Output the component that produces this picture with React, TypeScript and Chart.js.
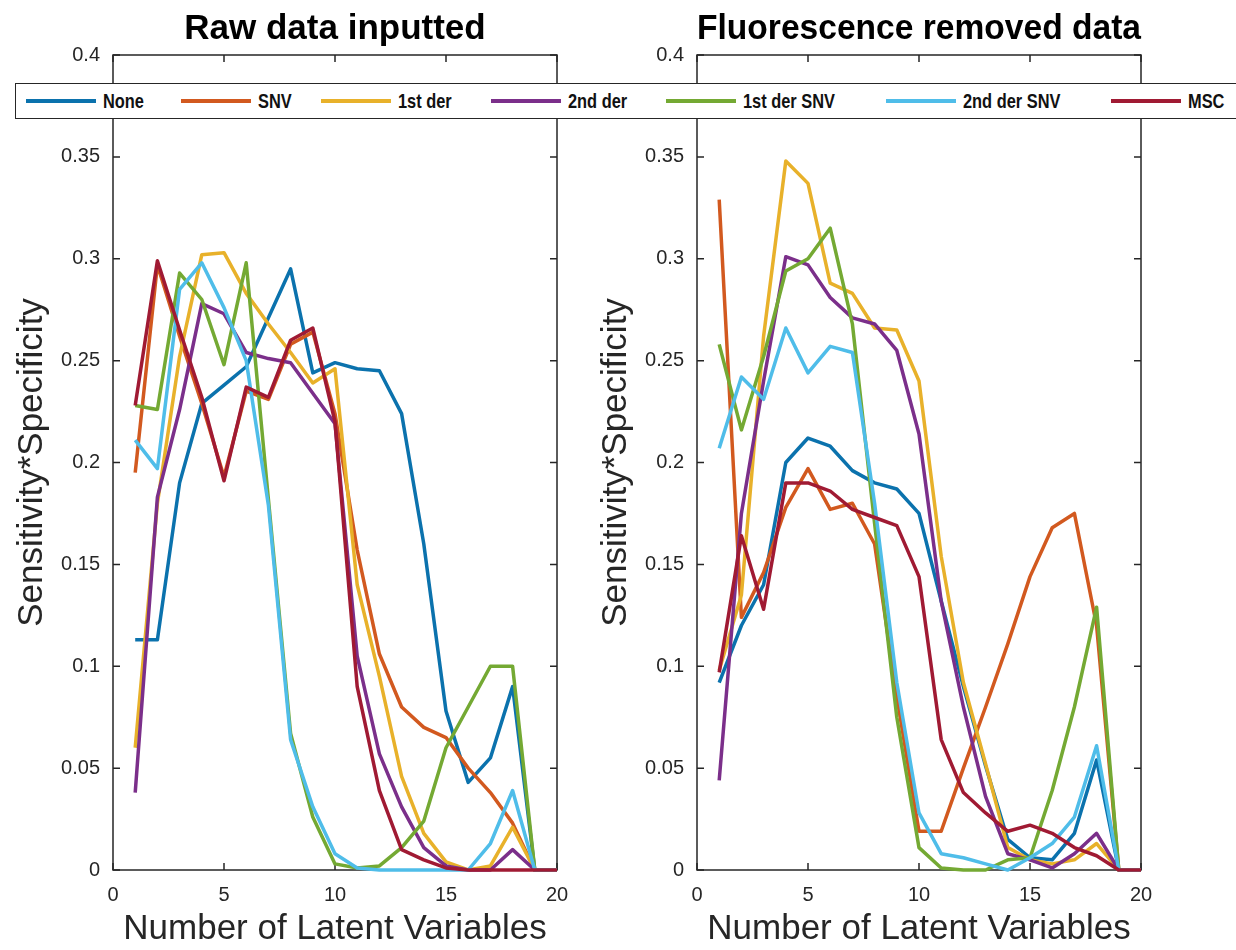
import React, { useEffect, useRef } from "react";
import { Chart, registerables } from "chart.js";

Chart.register(...registerables);

// ---------------- data ----------------
const LATENT_VARIABLES = [1, 2, 3, 4, 5, 6, 7, 8, 9, 10, 11, 12, 13, 14, 15, 16, 17, 18, 19, 20];
const X_TICKS = [0, 5, 10, 15, 20];
const Y_TICKS = [0, 0.05, 0.1, 0.15, 0.2, 0.25, 0.3, 0.35, 0.4];
const SERIES_NAMES = ["None", "SNV", "1st der", "2nd der", "1st der SNV", "2nd der SNV", "MSC"];
const PANEL_TITLES = ["Raw data inputted", "Fluorescence removed data"];
const X_LABEL = "Number of Latent Variables";
const Y_LABEL = "Sensitivity*Specificity";

// Raw data inputted
const RAW_NONE = [0.113, 0.113, 0.19, 0.229, 0.238, 0.247, 0.271, 0.295, 0.244, 0.249, 0.246, 0.245, 0.224, 0.16, 0.078, 0.043, 0.055, 0.09, 0, 0];
const RAW_SNV = [0.195, 0.297, 0.262, 0.229, 0.193, 0.235, 0.231, 0.258, 0.264, 0.224, 0.157, 0.106, 0.08, 0.07, 0.065, 0.05, 0.038, 0.023, 0, 0];
const RAW_1ST_DER = [0.06, 0.18, 0.252, 0.302, 0.303, 0.283, 0.268, 0.254, 0.239, 0.246, 0.14, 0.095, 0.046, 0.018, 0.004, 0, 0.002, 0.021, 0, 0];
const RAW_2ND_DER = [0.038, 0.183, 0.226, 0.278, 0.273, 0.254, 0.251, 0.249, 0.234, 0.219, 0.105, 0.057, 0.031, 0.011, 0.002, 0, 0, 0.01, 0, 0];
const RAW_1ST_DER_SNV = [0.228, 0.226, 0.293, 0.28, 0.248, 0.298, 0.182, 0.067, 0.026, 0.003, 0.001, 0.002, 0.011, 0.024, 0.06, 0.08, 0.1, 0.1, 0, 0];
const RAW_2ND_DER_SNV = [0.211, 0.197, 0.285, 0.298, 0.276, 0.25, 0.179, 0.064, 0.031, 0.008, 0.001, 0, 0, 0, 0, 0, 0.013, 0.039, 0, 0];
const RAW_MSC = [0.228, 0.299, 0.265, 0.232, 0.191, 0.237, 0.232, 0.26, 0.266, 0.22, 0.09, 0.039, 0.01, 0.005, 0.001, 0, 0, 0, 0, 0];

// Fluorescence removed data
const FR_NONE = [0.092, 0.12, 0.14, 0.2, 0.212, 0.208, 0.196, 0.19, 0.187, 0.175, 0.132, 0.09, 0.051, 0.015, 0.006, 0.005, 0.018, 0.054, 0, 0];
const FR_SNV = [0.329, 0.124, 0.146, 0.178, 0.197, 0.177, 0.18, 0.16, 0.085, 0.019, 0.019, 0.05, 0.08, 0.111, 0.144, 0.168, 0.175, 0.12, 0, 0];
const FR_1ST_DER = [0.098, 0.135, 0.262, 0.348, 0.337, 0.288, 0.283, 0.266, 0.265, 0.24, 0.154, 0.092, 0.052, 0.011, 0.005, 0.003, 0.005, 0.013, 0, 0];
const FR_2ND_DER = [0.044, 0.175, 0.24, 0.301, 0.297, 0.281, 0.271, 0.268, 0.255, 0.214, 0.132, 0.08, 0.036, 0.008, 0.005, 0.001, 0.008, 0.018, 0, 0];
const FR_1ST_DER_SNV = [0.258, 0.216, 0.252, 0.294, 0.3, 0.315, 0.268, 0.17, 0.075, 0.011, 0.001, 0, 0, 0.005, 0.006, 0.039, 0.08, 0.129, 0, 0];
const FR_2ND_DER_SNV = [0.207, 0.242, 0.231, 0.266, 0.244, 0.257, 0.254, 0.18, 0.092, 0.028, 0.008, 0.006, 0.003, 0, 0.006, 0.013, 0.026, 0.061, 0, 0];
const FR_MSC = [0.097, 0.164, 0.128, 0.19, 0.19, 0.186, 0.177, 0.173, 0.169, 0.144, 0.064, 0.038, 0.028, 0.019, 0.022, 0.018, 0.011, 0.007, 0, 0];

const RAW_SERIES = [RAW_NONE, RAW_SNV, RAW_1ST_DER, RAW_2ND_DER, RAW_1ST_DER_SNV, RAW_2ND_DER_SNV, RAW_MSC];
const FR_SERIES = [FR_NONE, FR_SNV, FR_1ST_DER, FR_2ND_DER, FR_1ST_DER_SNV, FR_2ND_DER_SNV, FR_MSC];

// ---------------- styles / layout ----------------
const COLORS = ["#0b72ad", "#d2591f", "#e8b12a", "#7b2f8a", "#74a933", "#4fbde9", "#a01a33"];
const AXIS_COLOR = "#262626";
const FONT = "'Liberation Sans', Arial, Helvetica, sans-serif";
const CANVAS_W = 600;
const CANVAS_H = 950;
const PANEL_LEFTS = [0, 584];
const LEGEND_SLOTS = [25, 180, 320, 490, 665, 885, 1110];

const boxPlugin = {
  id: "matlabBox",
  beforeDatasetsDraw(chart: any) {
    const { ctx, chartArea: a, scales } = chart;
    const xs = scales.x;
    const ys = scales.y;
    const tl = 7;
    ctx.save();
    ctx.strokeStyle = AXIS_COLOR;
    ctx.lineWidth = 1.5;
    ctx.strokeRect(a.left, a.top, a.right - a.left, a.bottom - a.top);
    ctx.beginPath();
    xs.ticks.forEach((t: any) => {
      const px = xs.getPixelForValue(t.value);
      ctx.moveTo(px, a.bottom);
      ctx.lineTo(px, a.bottom - tl);
      ctx.moveTo(px, a.top);
      ctx.lineTo(px, a.top + tl);
    });
    ys.ticks.forEach((t: any) => {
      const py = ys.getPixelForValue(t.value);
      ctx.moveTo(a.left, py);
      ctx.lineTo(a.left + tl, py);
      ctx.moveTo(a.right, py);
      ctx.lineTo(a.right - tl, py);
    });
    ctx.stroke();
    ctx.restore();
  },
};

function Panel({ title, series }: { title: string; series: number[][] }) {
  const ref = useRef<HTMLCanvasElement | null>(null);
  useEffect(() => {
    if (!ref.current) return;
    const n = SERIES_NAMES.length;
    const chart = new Chart(ref.current, {
      type: "line",
      data: {
        datasets: SERIES_NAMES.map((name, i) => ({
          label: name,
          data: LATENT_VARIABLES.map((x, j) => ({ x, y: series[i][j] })),
          borderColor: COLORS[i],
          backgroundColor: COLORS[i],
          borderWidth: 3.5,
          pointRadius: 0,
          tension: 0,
          fill: false,
          clip: false,
          borderJoinStyle: "round",
          order: n - 1 - i,
        })),
      },
      options: {
        responsive: false,
        animation: false,
        layout: { padding: { left: 0, right: 43, top: 0, bottom: 0 } },
        plugins: {
          legend: { display: false },
          tooltip: { enabled: false },
          title: {
            display: true,
            text: title,
            fullSize: false,
            color: "#000",
            font: { family: FONT, size: 35, weight: "bold" },
            padding: { top: 8, bottom: 5 },
          },
        },
        scales: {
          x: {
            type: "linear",
            min: 0,
            max: 20,
            afterBuildTicks: (s: any) => {
              s.ticks = X_TICKS.map((v) => ({ value: v }));
            },
            afterFit: (s: any) => {
              s.height = 80;
            },
            ticks: { color: AXIS_COLOR, font: { family: FONT, size: 20 }, padding: 13, maxRotation: 0 },
            grid: { display: false, drawTicks: false },
            border: { display: false },
            title: {
              display: true,
              text: X_LABEL,
              color: AXIS_COLOR,
              font: { family: FONT, size: 35 },
              padding: { top: 0, bottom: 0 },
            },
          },
          y: {
            type: "linear",
            min: 0,
            max: 0.4,
            afterBuildTicks: (s: any) => {
              s.ticks = Y_TICKS.map((v) => ({ value: v }));
            },
            afterFit: (s: any) => {
              s.width = 113;
            },
            ticks: {
              color: AXIS_COLOR,
              font: { family: FONT, size: 20 },
              padding: 13,
              callback: (v: any) => String(+Number(v).toFixed(2)),
            },
            grid: { display: false, drawTicks: false },
            border: { display: false },
            title: {
              display: true,
              text: Y_LABEL,
              color: AXIS_COLOR,
              font: { family: FONT, size: 35 },
              padding: { top: 11, bottom: 0 },
            },
          },
        },
      } as any,
      plugins: [boxPlugin],
    });
    return () => chart.destroy();
  }, [title, series]);
  return <canvas ref={ref} width={CANVAS_W} height={CANVAS_H} style={{ display: "block" }} />;
}

function Legend() {
  return (
    <div
      style={{
        position: "absolute",
        left: 15,
        top: 83,
        width: 1240,
        height: 34,
        background: "#fff",
        border: `1.5px solid ${AXIS_COLOR}`,
        zIndex: 5,
      }}
    >
      {SERIES_NAMES.map((name, i) => (
        <div
          key={name}
          style={{
            position: "absolute",
            left: LEGEND_SLOTS[i] - 15,
            top: 0,
            height: 34,
            display: "flex",
            alignItems: "center",
            whiteSpace: "nowrap",
          }}
        >
          <div style={{ width: 70, height: 4, background: COLORS[i], marginRight: 7 }} />
          <span
            style={{
              fontFamily: FONT,
              fontWeight: "bold",
              fontSize: 21,
              color: "#111",
              display: "inline-block",
              transform: "scaleX(0.78)",
              transformOrigin: "left center",
            }}
          >
            {name}
          </span>
        </div>
      ))}
    </div>
  );
}

export default function App() {
  return (
    <div
      style={{
        position: "absolute",
        left: 0,
        top: 0,
        width: 1236,
        height: 950,
        overflow: "hidden",
        background: "#fff",
      }}
    >
      {[RAW_SERIES, FR_SERIES].map((s, k) => (
        <div key={k} style={{ position: "absolute", left: PANEL_LEFTS[k], top: 0 }}>
          <Panel title={PANEL_TITLES[k]} series={s} />
        </div>
      ))}
      <Legend />
    </div>
  );
}
